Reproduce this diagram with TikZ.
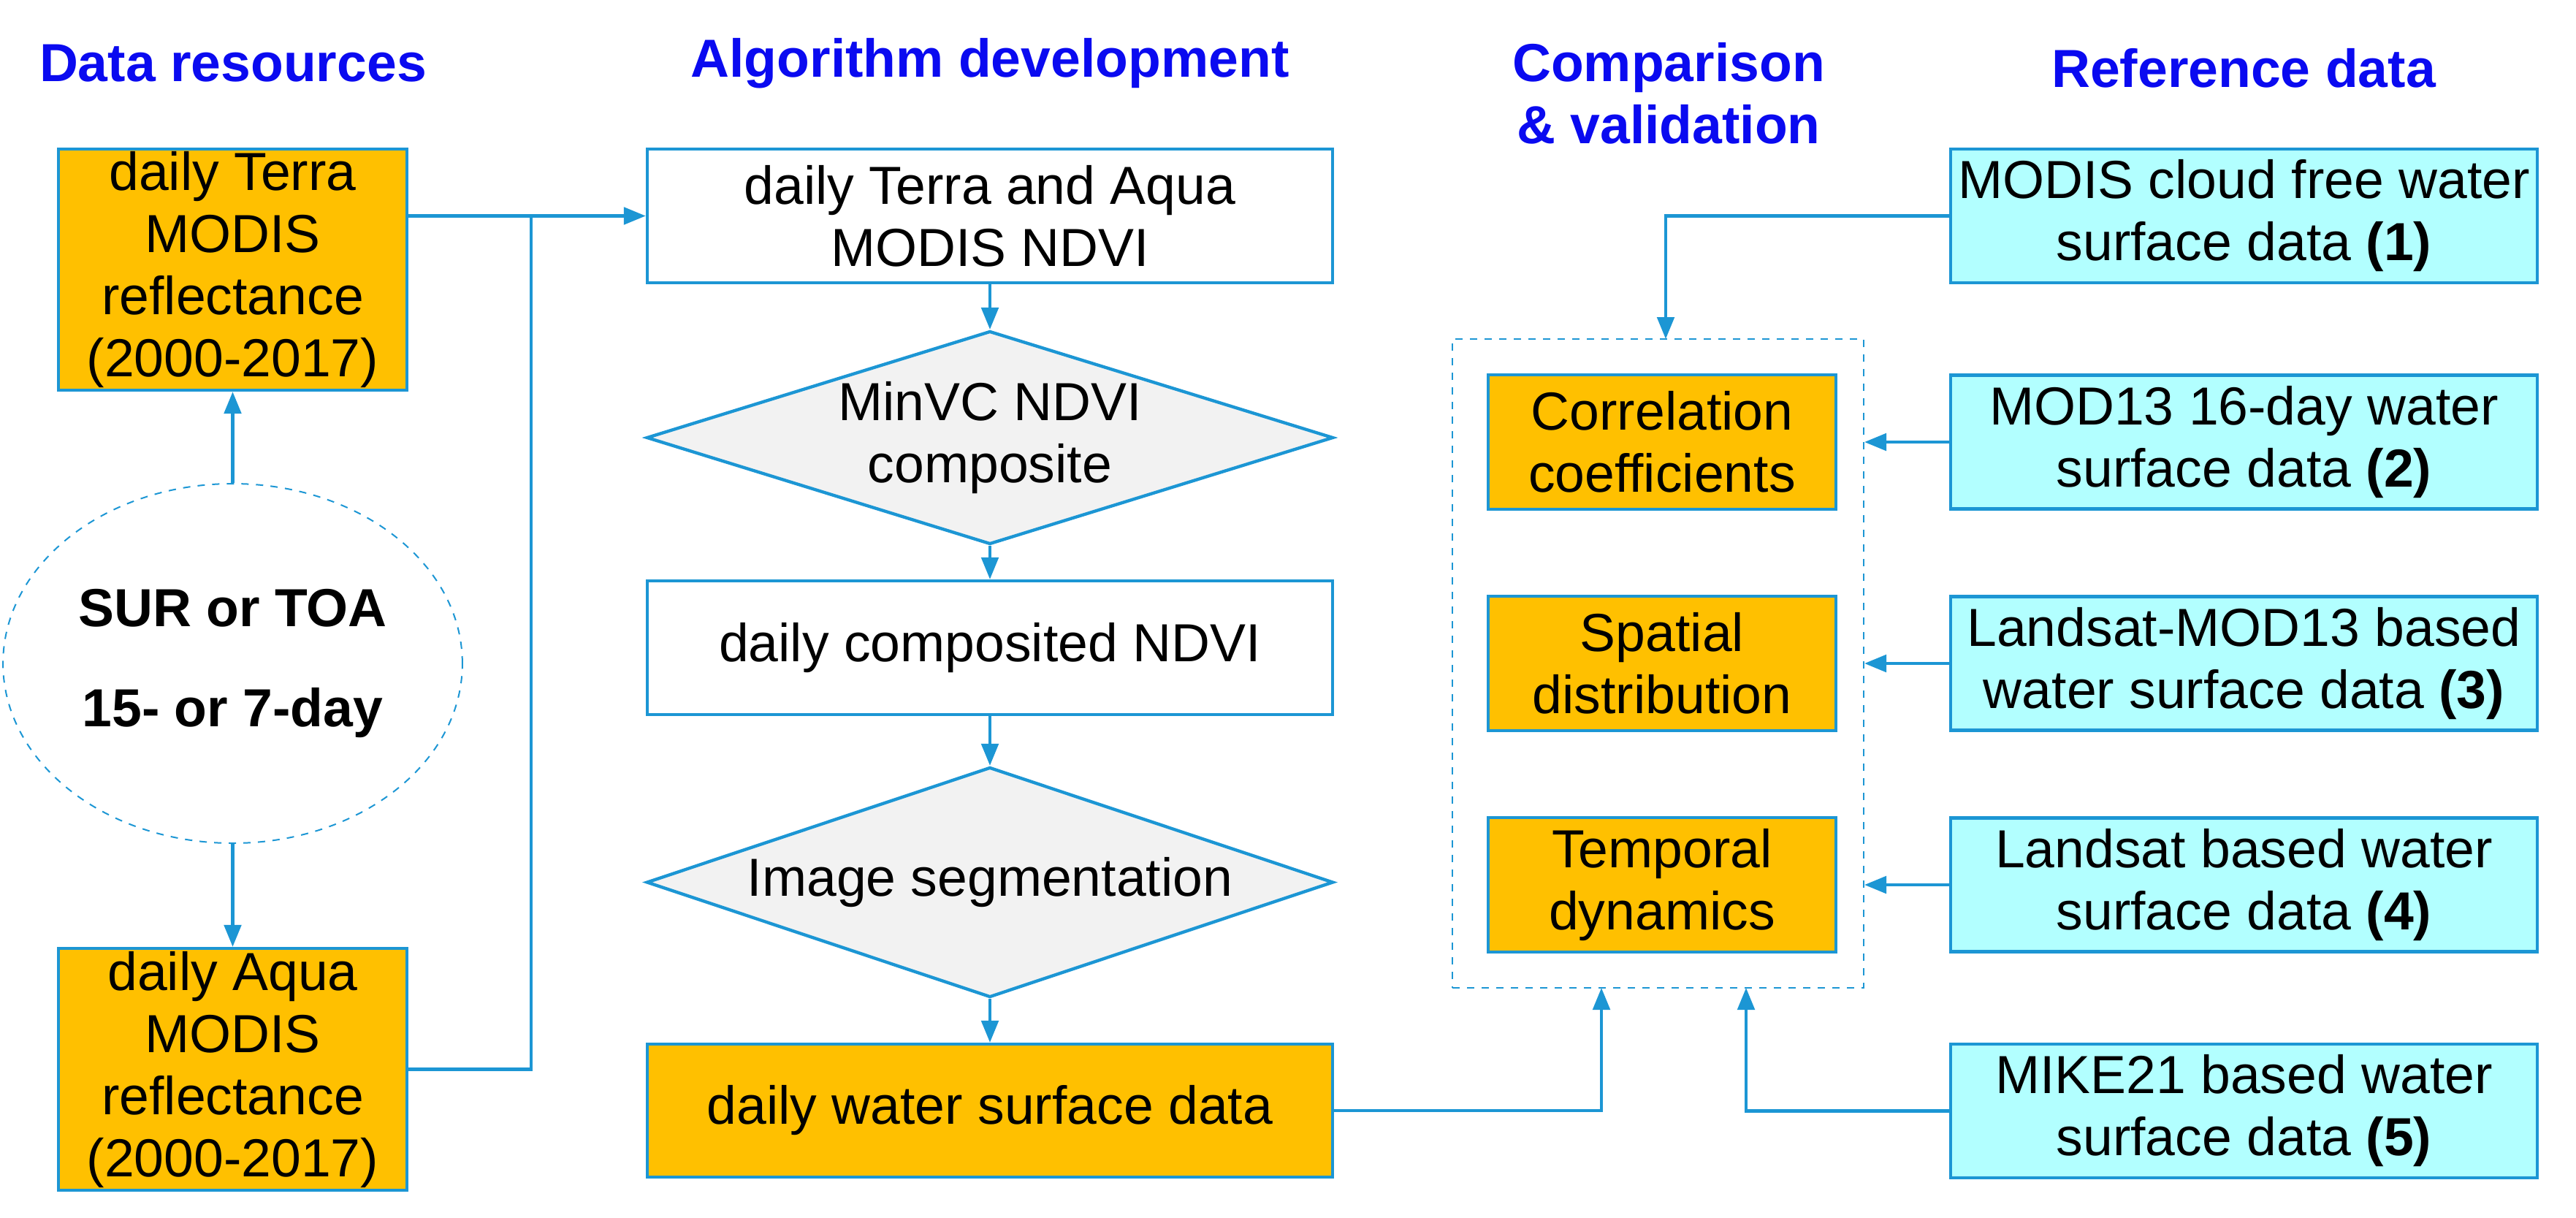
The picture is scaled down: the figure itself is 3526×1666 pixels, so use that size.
\documentclass[tikz,border=0pt]{standalone}
\usepackage{fontspec}
\setmainfont{Liberation Sans}
\usetikzlibrary{shapes.geometric,arrows.meta}
\definecolor{lb}{RGB}{28,150,212}
\definecolor{org}{RGB}{255,192,0}
\definecolor{cyn}{RGB}{178,255,255}
\definecolor{gry}{RGB}{242,242,242}
\definecolor{ttl}{RGB}{10,10,240}
\begin{document}
\begin{tikzpicture}[x=0.3pt,y=-0.3pt,
  font=\fontsize{22pt}{25.5pt}\selectfont,
  bx/.style={draw=lb,line width=1.3pt,align=center,inner sep=0pt},
  og/.style={bx,fill=org},
  cy/.style={bx,fill=cyn,minimum width=240.9pt,minimum height=54.9pt},
  wh/.style={bx,fill=white,minimum width=281.4pt,minimum height=54.9pt},
  dm/.style={bx,diamond,fill=gry,minimum width=282pt,shape aspect=3},
  ttl/.style={text=ttl,font=\fontsize{22pt}{25.5pt}\selectfont\bfseries,align=center},
  ar/.style={draw=lb,line width=1.3pt,-{Triangle[length=9pt,width=7pt]}},
  ln/.style={draw=lb,line width=1.3pt}]
\useasboundingbox (0,0) rectangle (3526,1666);
\node[ttl] (t1) at (319,87) {Data resources};
\node[ttl] (t2) at (1355,87) {Algorithm development};
\node[ttl] (t3) at (2284,128) {Comparison\\\& validation};
\node[ttl] (t4) at (3071,93) {Reference data};
\node[og,minimum width=143.1pt,minimum height=99pt] (terra) at (318.5,369) {daily Terra\\MODIS\\reflectance\\(2000-2017)};
\node[ellipse,draw=lb,dashed,line width=0.6pt,minimum width=143.1pt,minimum height=147.6pt,align=center,font=\fontsize{22pt}{41pt}\selectfont\bfseries] (el) at (318.5,908) {SUR or TOA\\15- or 7-day};
\node[og,minimum width=143.1pt,minimum height=99.3pt] (aqua) at (318.5,1463.5) {daily Aqua\\MODIS\\reflectance\\(2000-2017)};
\node[wh] (ndvi) at (1355,295.5) {daily Terra and Aqua\\MODIS NDVI};
\node[dm,minimum height=79.2pt] (d1) at (1355,599) {MinVC NDVI\\composite};
\node[wh] (comp) at (1355,886.5) {daily composited NDVI};
\node[dm,minimum height=94.5pt] (d2) at (1355,1207.5) {Image segmentation};
\node[og,minimum width=281.4pt,minimum height=54.6pt] (water) at (1355,1520) {daily water surface data};
\node[draw=lb,dashed,line width=0.6pt,minimum width=168.9pt,minimum height=266.4pt,inner sep=0pt] (val) at (2269.5,908) {};
\node[og,minimum width=142.8pt,minimum height=55.2pt] (o1) at (2275,605) {Correlation\\coefficients};
\node[og,minimum width=142.8pt,minimum height=55.2pt] (o2) at (2275,908) {Spatial\\distribution};
\node[og,minimum width=142.8pt,minimum height=55.2pt] (o3) at (2275,1211) {Temporal\\dynamics};
\node[cy] (r1) at (3071.5,295.5) {MODIS cloud free water\\surface data \textbf{(1)}};
\node[cy] (r2) at (3071.5,605) {MOD13 16-day water\\surface data \textbf{(2)}};
\node[cy] (r3) at (3071.5,908) {Landsat-MOD13 based\\water surface data \textbf{(3)}};
\node[cy] (r4) at (3071.5,1211) {Landsat based water\\surface data \textbf{(4)}};
\node[cy] (r5) at (3071.5,1520.5) {MIKE21 based water\\surface data \textbf{(5)}};
\coordinate (j) at (727,295.5);
\coordinate (c1) at (2280,464);
\coordinate (c5) at (2192,1352);
\coordinate (c6) at (2390,1352);
\draw[ar] (terra.east|-ndvi.west) -- (ndvi.west);
\draw[ln] (aqua.east) -| (j);
\draw[ar] (el.north) -- (terra.south);
\draw[ar] (el.south) -- (aqua.north);
\draw[ar] (ndvi.south) -- (d1.north);
\draw[ar] (d1.south) -- (comp.north);
\draw[ar] (comp.south) -- (d2.north);
\draw[ar] (d2.south) -- (water.north);
\draw[ar] (r1.west) -| (c1);
\draw[ar] (r2.west) -- (val.east|-r2.west);
\draw[ar] (r3.west) -- (val.east|-r3.west);
\draw[ar] (r4.west) -- (val.east|-r4.west);
\draw[ar] (water.east) -| (c5);
\draw[ar] (r5.west) -| (c6);
\end{tikzpicture}
\end{document}
